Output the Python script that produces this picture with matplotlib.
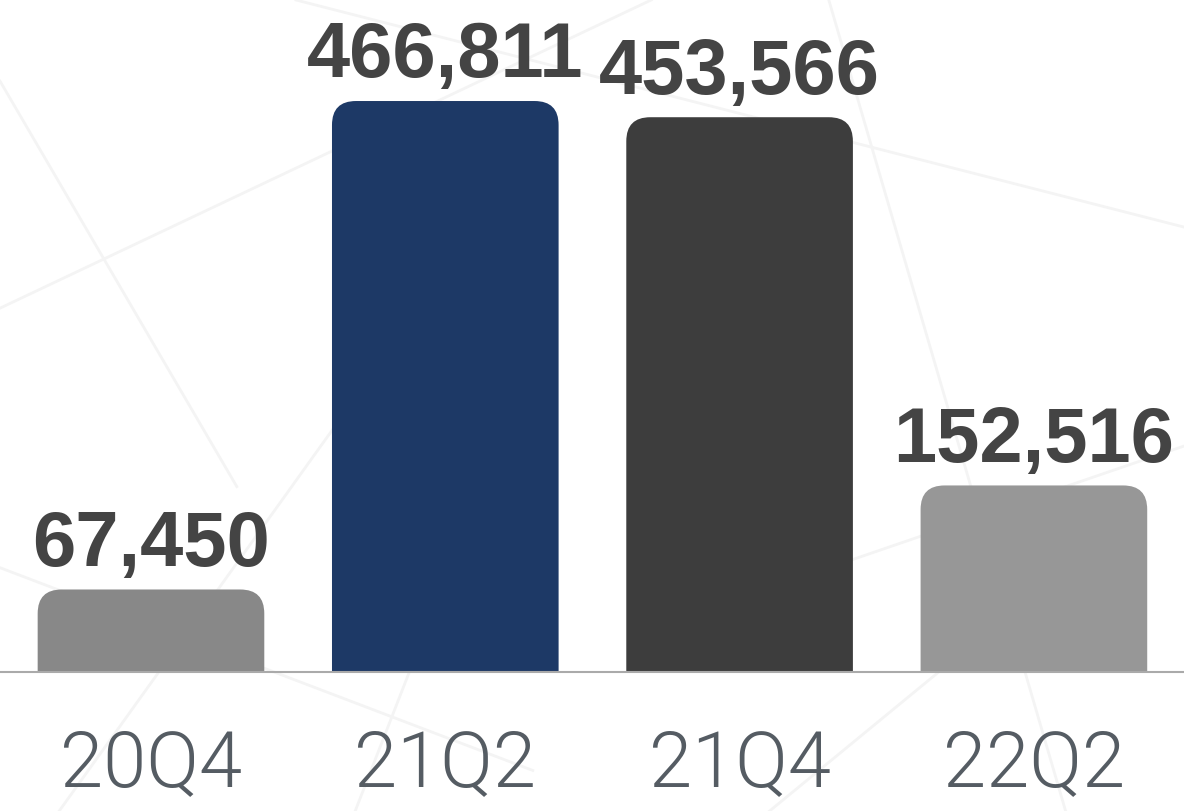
import matplotlib.pyplot as plt
from matplotlib.patches import FancyBboxPatch
from matplotlib.lines import Line2D

# data
quarters = ['20Q4', '21Q2', '21Q4', '22Q2']
values = [67450, 466811, 453566, 152516]
colors = ['#888888', '#1d3966', '#3d3d3d', '#979797']

fig = plt.figure(figsize=(11.84, 8.11), dpi=100)
fig.patch.set_facecolor('white')

# faint decorative background lines
bg = [((0.0, 0.62), (0.55, 1.0)), ((0.25, 1.0), (1.0, 0.72)), ((0.05, 0.0), (0.32, 0.55)),
      ((0.6, 0.25), (1.0, 0.45)), ((0.0, 0.3), (0.45, 0.05)), ((0.7, 1.0), (0.9, 0.0)),
      ((0.3, 0.0), (0.38, 0.3)), ((0.9, 0.3), (0.65, 0.0)), ((0.0, 0.9), (0.2, 0.4))]
for (x0, y0), (x1, y1) in bg:
    fig.add_artist(Line2D([x0, x1], [y0, y1], transform=fig.transFigure,
                          color='#f4f4f4', lw=2, zorder=0))

ax = fig.add_axes([0, 0.1714, 1, 0.8286])
ax.patch.set_alpha(0)
ax.set_xlim(-0.513, 3.51)
ax.set_ylim(0, 549400)

width = 0.77
r_px = 24
fig.canvas.draw()
sx = 1 / (ax.transData.transform((1, 0))[0] - ax.transData.transform((0, 0))[0])
sy = 1 / (ax.transData.transform((0, 1))[1] - ax.transData.transform((0, 0))[1])
r_x = r_px * sx
aspect = sy / sx

for i, (v, c) in enumerate(zip(values, colors)):
    box = FancyBboxPatch((i - width / 2, -r_px * sy * 2), width, v + r_px * sy * 2,
                         boxstyle=f'round,pad=0,rounding_size={r_x}',
                         mutation_aspect=aspect, facecolor=c, edgecolor='none', zorder=2)
    ax.add_patch(box)
    ax.annotate(f'{v:,}', (i, v), xytext=(0, 17), textcoords='offset points',
                ha='center', va='baseline', fontsize=56, fontweight='bold',
                family='Liberation Sans', color='#444444')

ax.axhline(0, color='#aaaaaa', lw=1.5, zorder=3, clip_on=False)

ax.set_xticks(range(len(quarters)))
ax.set_xticklabels(quarters, fontsize=56, family='Roboto', fontweight=300, color='#555c63')
ax.tick_params(axis='x', length=0, pad=40)
ax.set_yticks([])
for s in ax.spines.values():
    s.set_visible(False)

fig.savefig('out.png', dpi=100)
